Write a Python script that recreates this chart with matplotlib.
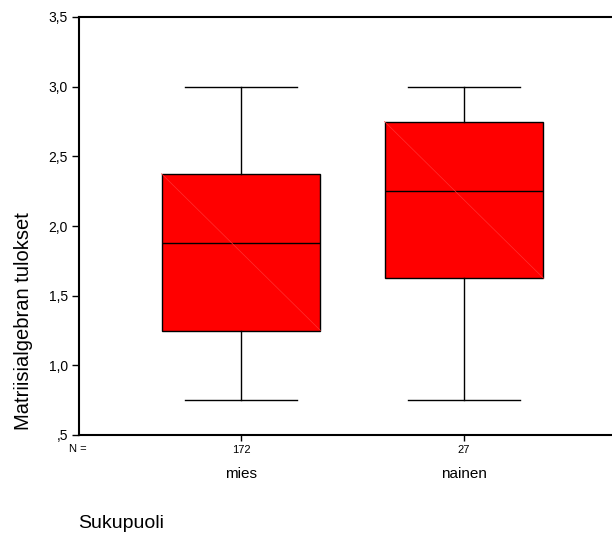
import matplotlib
matplotlib.use("Agg")
import matplotlib.pyplot as plt

plt.rcParams['font.family'] = ['Liberation Sans', 'DejaVu Sans']

groups = ['mies', 'nainen']
counts = [172, 27]
whislo = [0.75, 0.75]
q1 = [1.25, 1.625]
med = [1.875, 2.25]
q3 = [2.375, 2.75]
whishi = [3.0, 3.0]
yticks = [0.5, 1.0, 1.5, 2.0, 2.5, 3.0, 3.5]
ytick_labels = [',5', '1,0', '1,5', '2,0', '2,5', '3,0', '3,5']

W, H = 612, 534
fig = plt.figure(figsize=(W / 100, H / 100), dpi=100)
ax = fig.add_axes([79 / W, (H - 435) / H, (W - 79) / W, (435 - 17) / H])

stats = []
for i in range(len(groups)):
    stats.append(dict(label=groups[i], whislo=whislo[i], q1=q1[i], med=med[i],
                      q3=q3[i], whishi=whishi[i], fliers=[]))

pos = [1, 2]
bw = 0.713
ax.bxp(stats, positions=pos, widths=bw, patch_artist=True, showfliers=False,
       boxprops=dict(facecolor='#ff0000', edgecolor='black', linewidth=1.0),
       medianprops=dict(color='black', linewidth=1.0),
       whiskerprops=dict(color='black', linewidth=1.0),
       capprops=dict(color='black', linewidth=1.0),
       capwidths=0.5)

# faint diagonal inside the boxes
for p, lo, hi in zip(pos, q1, q3):
    ax.plot([p - bw / 2, p + bw / 2], [hi, lo], color='#ff3030', lw=0.5, zorder=2.5)

ax.set_xlim(1 - 162 / 223, 2 + 148 / 223)
ax.set_ylim(0.5, 3.5)
ax.set_yticks(yticks)
ax.set_yticklabels(ytick_labels, fontsize=10)
ax.set_xticks(pos)
ax.set_xticklabels([str(c) for c in counts], fontsize=8)
ax.tick_params(axis='y', length=5, width=1, pad=3)
ax.tick_params(axis='x', length=4, width=1, pad=3)
ax.spines['right'].set_visible(False)
for s in ['left', 'bottom', 'top']:
    ax.spines[s].set_linewidth(1.5)

for p, g in zip(pos, groups):
    x_fig = (79 + (p - 1) * 223 + 162) / W
    fig.text(x_fig, 1 - 474 / H, g, ha='center', va='center', fontsize=11)

fig.text(69 / W, 1 - 449 / H, 'N =', ha='left', va='center', fontsize=8)
fig.text(78 / W, 1 - 523 / H, 'Sukupuoli', ha='left', va='center', fontsize=14)
fig.text(24 / W, 1 - 321 / H, 'Matriisialgebran tulokset', rotation=90,
         ha='center', va='center', fontsize=14.5)

fig.savefig('out.png', dpi=100)
